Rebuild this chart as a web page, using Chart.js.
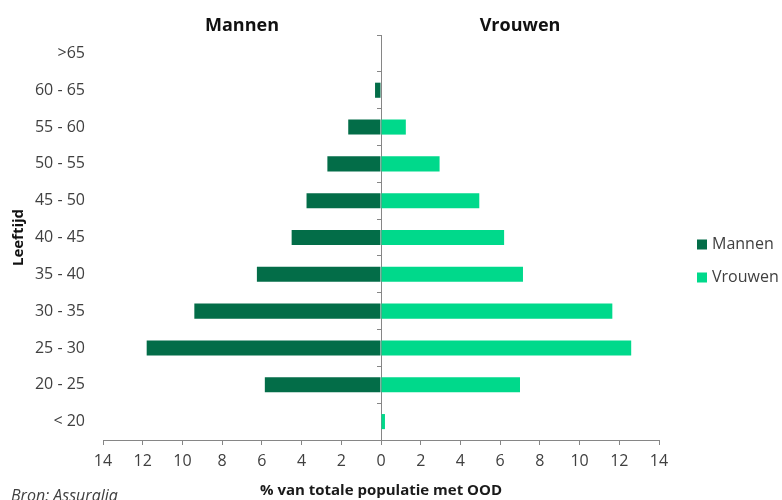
<!DOCTYPE html>
<html>
<head>
<meta charset="utf-8">
<script src="https://cdn.jsdelivr.net/npm/chart.js@4/dist/chart.umd.min.js"></script>
<style>
  html, body { margin: 0; padding: 0; background: #ffffff; }
  #wrap { width: 782px; height: 500px; position: relative; }
</style>
</head>
<body>
<div id="wrap"><canvas id="pyramid"></canvas></div>
<script>
// Age groups, top to bottom
const ageGroups = ['>65', '60 - 65', '55 - 60', '50 - 55', '45 - 50', '40 - 45',
                   '35 - 40', '30 - 35', '25 - 30', '20 - 25', '< 20'];
// Share of total population (%) per age group
const mannen  = [0, 0.3, 1.65, 2.7, 3.75, 4.5, 6.25, 9.4, 11.8, 5.85, 0];
const vrouwen = [0, 0, 1.25, 2.95, 4.95, 6.2, 7.15, 11.65, 12.6, 7.0, 0.2];
// Axis range and side headings
const axisTicks = [-14, -12, -10, -8, -6, -4, -2, 0, 2, 4, 6, 8, 10, 12, 14];
const sideTitles = ['Mannen', 'Vrouwen'];
const seriesNames = ['Mannen', 'Vrouwen'];
const sourceNote = 'Bron: Assuralia';

const FONT = "'Open Sans', 'DejaVu Sans', sans-serif";
const AXIS_GREY = '#868686';
const TEXT_GREY = '#404040';
const DARK = '#036d48';
const LIGHT = '#00d98b';

// Legend and source note drawn next to the plot area
const sidePlugin = {
  id: 'sideLegend',
  afterDraw(chart) {
    const { ctx, chartArea } = chart;
    ctx.save();
    const midY = (chartArea.top + chartArea.bottom) / 2;
    const x0 = chartArea.right + 38;
    chart.data.datasets.forEach((ds, i) => {
      const cy = midY + 7 + i * 33;
      ctx.fillStyle = ds.backgroundColor;
      ctx.fillRect(x0, cy - 5, 10, 10);
      ctx.fillStyle = TEXT_GREY;
      ctx.font = "16px " + FONT;
      ctx.textBaseline = 'middle';
      ctx.textAlign = 'left';
      ctx.fillText(ds.label, x0 + 15, cy);
    });
    ctx.font = "italic 16px " + FONT;
    ctx.fillStyle = TEXT_GREY;
    ctx.textBaseline = 'middle';
    ctx.fillText(sourceNote, 11, 496);
    ctx.restore();
  }
};

new Chart(document.getElementById('pyramid'), {
  type: 'bar',
  data: {
    labels: ageGroups,
    datasets: [
      {
        label: seriesNames[0],
        data: mannen.map(v => -v),
        backgroundColor: DARK,
        barPercentage: 0.41,
        categoryPercentage: 1.0
      },
      {
        label: seriesNames[1],
        data: vrouwen,
        backgroundColor: LIGHT,
        barPercentage: 0.41,
        categoryPercentage: 1.0
      }
    ]
  },
  options: {
    indexAxis: 'y',
    responsive: true,
    maintainAspectRatio: false,
    animation: false,
    layout: { padding: { left: 0, right: 123, top: 0, bottom: 0 } },
    plugins: {
      legend: { display: false },
      tooltip: { enabled: false }
    },
    scales: {
      x: {
        type: 'linear',
        position: 'bottom',
        stacked: true,
        min: axisTicks[0],
        max: axisTicks[axisTicks.length - 1],
        afterBuildTicks(scale) { scale.ticks = axisTicks.map(v => ({ value: v })); },
        afterFit(scale) { scale.height = 60; },
        ticks: {
          callback: v => String(Math.abs(v)),
          font: { family: FONT, size: 16 },
          color: TEXT_GREY,
          padding: 7,
          maxRotation: 0,
          autoSkip: false
        },
        grid: { drawOnChartArea: false, color: AXIS_GREY, tickLength: 5 },
        border: { color: AXIS_GREY, width: 1 },
        title: {
          display: true,
          text: '% van totale populatie met OOD',
          font: { family: FONT, size: 15, weight: 'bold' },
          color: '#1a1a1a',
          padding: { top: 0, bottom: 0 }
        }
      },
      xTop: {
        type: 'linear',
        position: 'top',
        min: axisTicks[0],
        max: axisTicks[axisTicks.length - 1],
        afterBuildTicks(scale) { scale.ticks = [{ value: -7 }, { value: 7 }]; },
        afterFit(scale) { scale.height = 35; },
        ticks: {
          callback: v => (v < 0 ? sideTitles[0] : sideTitles[1]),
          font: { family: FONT, size: 18, weight: 'bold' },
          color: '#111111',
          padding: -2,
          maxRotation: 0,
          autoSkip: false
        },
        grid: { display: false, drawTicks: false, tickLength: 0 },
        border: { display: false }
      },
      y: {
        type: 'category',
        position: 'left',
        stacked: true,
        offset: true,
        afterFit(scale) { scale.width = 103; },
        ticks: {
          font: { family: FONT, size: 16 },
          color: TEXT_GREY,
          padding: 18,
          autoSkip: false
        },
        grid: { display: false, drawTicks: false, tickLength: 0 },
        border: { display: false },
        title: {
          display: true,
          text: 'Leeftijd',
          font: { family: FONT, size: 15, weight: 'bold' },
          color: '#111111',
          padding: { top: 10, bottom: 0 }
        }
      },
      yCenter: {
        type: 'category',
        position: { x: 0 },
        offset: true,
        ticks: { display: false },
        grid: { offset: true, drawOnChartArea: false, color: AXIS_GREY, tickLength: 4 },
        border: { color: AXIS_GREY, width: 1 }
      }
    }
  },
  plugins: [sidePlugin]
});
</script>
</body>
</html>
